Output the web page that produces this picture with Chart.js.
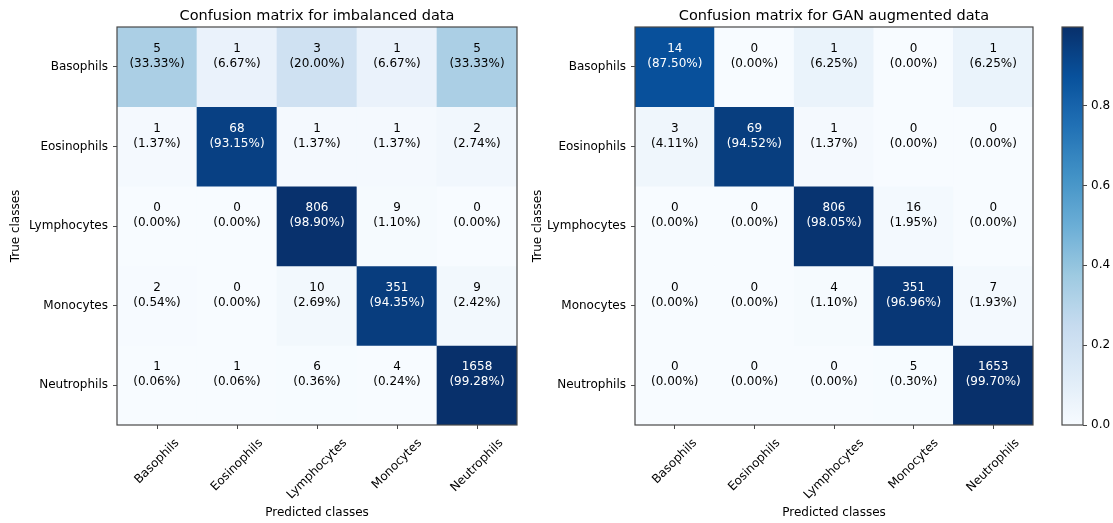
<!DOCTYPE html>
<html>
<head>
<meta charset="utf-8">
<script src="https://cdn.jsdelivr.net/npm/chart.js@4"></script>
<style>
  body { margin: 0; background: #fff; }
  #wrap { position: relative; width: 1113px; height: 523px; background: #fff; }
  canvas { position: absolute; top: 0; }
</style>
</head>
<body>
<div id="wrap">
  <canvas id="cmLeft" width="530" height="523" style="left:0px"></canvas>
  <canvas id="cmRight" width="523" height="523" style="left:522px"></canvas>
  <canvas id="cbar" width="63" height="523" style="left:1050px"></canvas>
</div>
<script>
// class names, shared by both axes
const classes = ["Basophils", "Eosinophils", "Lymphocytes", "Monocytes", "Neutrophils"];

// counts, rows = true class, cols = predicted class
const countsImbalanced = [
  [5, 1, 3, 1, 5],
  [1, 68, 1, 1, 2],
  [0, 0, 806, 9, 0],
  [2, 0, 10, 351, 9],
  [1, 1, 6, 4, 1658]
];
const countsGan = [
  [14, 0, 1, 0, 1],
  [3, 69, 1, 0, 0],
  [0, 0, 806, 16, 0],
  [0, 0, 4, 351, 7],
  [0, 0, 0, 5, 1653]
];
const colorbarTicks = [0, 0.2, 0.4, 0.6, 0.8];

Chart.defaults.font.family = '"DejaVu Sans", sans-serif';
Chart.defaults.color = "#000";

// matplotlib "Blues"
const BLUES = ["#f7fbff", "#deebf7", "#c6dbef", "#9ecae1", "#6baed6", "#4292c6", "#2171b5", "#08519c", "#08306b"];
function hexRgb(h) {
  return [parseInt(h.slice(1, 3), 16), parseInt(h.slice(3, 5), 16), parseInt(h.slice(5, 7), 16)];
}
function blues(t) {
  t = Math.max(0, Math.min(1, t));
  const p = t * (BLUES.length - 1);
  const i = Math.min(Math.floor(p), BLUES.length - 2);
  const f = p - i;
  const a = hexRgb(BLUES[i]), b = hexRgb(BLUES[i + 1]);
  const c = a.map((v, k) => Math.round(v + (b[k] - v) * f));
  return "rgb(" + c.join(",") + ")";
}

function rowNorm(counts) {
  return counts.map(r => {
    const s = r.reduce((a, b) => a + b, 0);
    return r.map(v => v / s);
  });
}

const FRAME = "#484848";

const framePlugin = {
  id: "frame",
  afterDraw(chart) {
    const { ctx, chartArea: a } = chart;
    ctx.save();
    ctx.strokeStyle = FRAME;
    ctx.lineWidth = 1.2;
    ctx.strokeRect(a.left, a.top, a.right - a.left, a.bottom - a.top);
    ctx.restore();
  }
};

// rotated x labels, centred on the tick like matplotlib's rotation=45
const xLabelPlugin = {
  id: "xLabels",
  afterDraw(chart) {
    const { ctx } = chart;
    const xs = chart.scales.x;
    ctx.save();
    ctx.font = '12px "DejaVu Sans"';
    ctx.fillStyle = "#000";
    ctx.textAlign = "center";
    ctx.textBaseline = "middle";
    xs.ticks.forEach((t, i) => {
      const label = chart.data.labels[i];
      const px = xs.getPixelForTick(i);
      const w = ctx.measureText(label).width;
      const half = (w + 12) * Math.SQRT1_2 / 2;
      ctx.translate(px, xs.top + 12 + half);
      ctx.rotate(-Math.PI / 4);
      ctx.fillText(label, 0, 0);
      ctx.setTransform(1, 0, 0, 1, 0, 0);
    });
    ctx.restore();
  }
};

function makeMatrix(id, title, counts, yWidth, padRight) {
  const norm = rowNorm(counts);
  const vmax = Math.max(...norm.flat());

  const cellText = {
    id: "cellText",
    afterDatasetsDraw(chart) {
      const { ctx } = chart;
      ctx.save();
      ctx.font = '12px "DejaVu Sans"';
      ctx.textAlign = "center";
      ctx.textBaseline = "middle";
      chart.data.datasets.forEach((ds, r) => {
        chart.getDatasetMeta(r).data.forEach((bar, c) => {
          const { x, y, base } = bar.getProps(["x", "y", "base"], true);
          const cy = (y + base) / 2;
          ctx.fillStyle = norm[r][c] > vmax / 2 ? "#fff" : "#000";
          ctx.fillText(String(counts[r][c]), x, cy - 18);
          ctx.fillText("(" + (norm[r][c] * 100).toFixed(2) + "%)", x, cy - 3);
        });
      });
      ctx.restore();
    }
  };

  const datasets = counts.map((row, r) => ({
    label: classes[r],
    data: row.map(() => [r, r + 1]),
    backgroundColor: norm[r].map(v => blues(v / vmax)),
    borderWidth: 0,
    barPercentage: 1,
    categoryPercentage: 1,
    grouped: false
  }));

  return new Chart(document.getElementById(id), {
    type: "bar",
    data: { labels: classes, datasets },
    options: {
      responsive: false,
      animation: false,
      devicePixelRatio: 1,
      layout: { padding: { left: 0, right: padRight, top: 0, bottom: 0 } },
      plugins: {
        legend: { display: false },
        tooltip: { enabled: false },
        title: {
          display: true,
          text: title,
          fullSize: false,
          color: "#000",
          font: { size: 14.5, weight: "normal" },
          padding: { top: 8, bottom: 1.6 }
        }
      },
      scales: {
        x: {
          type: "category",
          offset: true,
          grid: { offset: false, drawOnChartArea: false, drawTicks: true, tickLength: 4, color: FRAME },
          border: { display: false },
          ticks: { color: "rgba(0,0,0,0)", minRotation: 45, maxRotation: 45, font: { size: 12 } },
          title: { display: true, text: "Predicted classes", color: "#000", font: { size: 12 }, padding: { top: 0, bottom: 2.8 } },
          afterFit: s => { s.height = 98; }
        },
        y: {
          type: "linear",
          min: 0,
          max: 5,
          reverse: true,
          afterBuildTicks: s => { s.ticks = classes.map((c, i) => ({ value: i + 0.5 })); },
          ticks: { callback: (v, i) => classes[i], color: "#000", font: { size: 12 }, padding: 5, autoSkip: false },
          grid: { drawOnChartArea: false, drawTicks: true, tickLength: 4, color: FRAME },
          border: { display: false },
          title: { display: true, text: "True classes", color: "#000", font: { size: 12 }, padding: { top: 9, bottom: 0 } },
          afterFit: s => { s.width = yWidth; }
        }
      }
    },
    plugins: [cellText, framePlugin, xLabelPlugin]
  });
}

makeMatrix("cmLeft", "Confusion matrix for imbalanced data", countsImbalanced, 117, 13);
makeMatrix("cmRight", "Confusion matrix for GAN augmented data", countsGan, 113, 12);

// colorbar follows the GAN matrix normalisation (0 .. its max)
const cbMax = Math.max(...rowNorm(countsGan).flat());

new Chart(document.getElementById("cbar"), {
  type: "bar",
  data: {
    labels: [""],
    datasets: [{
      data: [[0, cbMax]],
      borderWidth: 0,
      barPercentage: 1,
      categoryPercentage: 1,
      backgroundColor: c => {
        const ch = c.chart;
        if (!ch.chartArea) return BLUES[0];
        const ys = ch.scales.y;
        const g = ch.ctx.createLinearGradient(0, ys.getPixelForValue(0), 0, ys.getPixelForValue(cbMax));
        for (let k = 0; k <= 32; k++) g.addColorStop(k / 32, blues(k / 32));
        return g;
      }
    }]
  },
  options: {
    responsive: false,
    animation: false,
    devicePixelRatio: 1,
    layout: { padding: { left: 12, right: 0, top: 27, bottom: 98 } },
    plugins: { legend: { display: false }, tooltip: { enabled: false } },
    scales: {
      x: { display: false },
      y: {
        position: "right",
        min: 0,
        max: cbMax,
        afterBuildTicks: s => { s.ticks = colorbarTicks.map(v => ({ value: v })); },
        ticks: { callback: v => v.toFixed(1), color: "#000", font: { size: 12 }, padding: 4 },
        grid: { drawOnChartArea: false, drawTicks: true, tickLength: 4, color: FRAME },
        border: { display: false },
        afterFit: s => { s.width = 30; }
      }
    }
  },
  plugins: [framePlugin]
});
</script>
</body>
</html>
